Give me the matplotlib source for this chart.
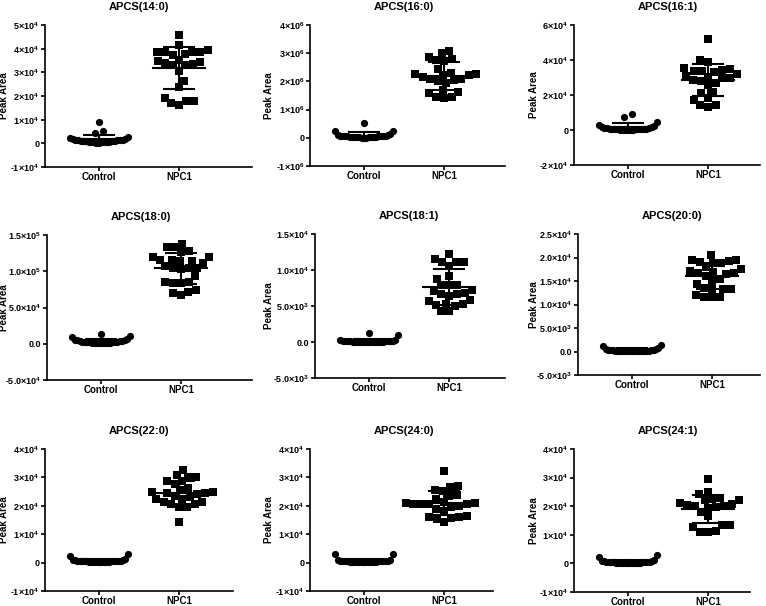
import numpy as np
import matplotlib
matplotlib.use("Agg")
import matplotlib.pyplot as plt

plt.rcParams['font.family'] = ['Liberation Sans', 'DejaVu Sans']
plt.rcParams['font.weight'] = 'bold'
plt.rcParams['mathtext.fontset'] = 'custom'
plt.rcParams['mathtext.rm'] = 'Liberation Sans:bold'
plt.rcParams['mathtext.default'] = 'rm'

groups = ["Control", "NPC1"]
titles = ["APCS(14:0)", "APCS(16:0)", "APCS(16:1)",
          "APCS(18:0)", "APCS(18:1)", "APCS(20:0)",
          "APCS(22:0)", "APCS(24:0)", "APCS(24:1)"]

# Peak area values, in units of units[i]
units = [1e4, 1e6, 1e4, 1e5, 1e4, 1e4, 1e4, 1e4, 1e4]

ctrl_14_0 = [0.91, 0.53, 0.43, 0.25, 0.21, 0.19, 0.18, 0.16, 0.15, 0.14, 0.13, 0.12, 0.11,
             0.10, 0.09, 0.08, 0.08, 0.07, 0.06, 0.06, 0.05, 0.05, 0.04, 0.04, 0.03, 0.03]
npc1_14_0 = [4.58, 4.16, 3.95, 3.85, 3.88, 3.85, 3.88, 3.77, 3.74, 3.53, 3.46, 3.44, 3.39,
             3.35, 3.30, 3.30, 3.07, 2.65, 2.39, 1.91, 1.77, 1.63, 1.72, 1.79]

ctrl_16_0 = [0.52, 0.24, 0.24, 0.14, 0.10, 0.09, 0.08, 0.07, 0.07, 0.06, 0.06, 0.05, 0.05,
             0.05, 0.04, 0.04, 0.04, 0.03, 0.03, 0.03, 0.02, 0.02, 0.02, 0.01, 0.01, 0.01]
npc1_16_0 = [3.09, 2.99, 2.87, 2.75, 2.72, 2.78, 2.43, 2.28, 2.31, 2.22, 2.14, 2.04, 2.07,
             2.22, 2.26, 2.10, 1.95, 1.63, 1.45, 1.41, 1.45, 1.59, 1.69, 2.00]

ctrl_16_1 = [0.91, 0.72, 0.48, 0.30, 0.22, 0.18, 0.15, 0.12, 0.10, 0.09, 0.08, 0.07, 0.06,
             0.05, 0.05, 0.04, 0.04, 0.03, 0.03, 0.02, 0.02, 0.02, 0.01, 0.01, 0.01]
npc1_16_1 = [5.18, 3.90, 4.00, 3.47, 3.39, 3.33, 3.37, 3.43, 3.52, 3.05, 2.86, 2.67, 2.57,
             2.95, 3.09, 2.95, 2.19, 2.10, 1.85, 1.71, 1.43, 1.33, 1.43, 3.20, 2.80]

ctrl_18_0 = [0.13, 0.11, 0.09, 0.06, 0.05, 0.05, 0.045, 0.04, 0.04, 0.035, 0.03, 0.03, 0.025,
             0.025, 0.02, 0.02, 0.02, 0.015, 0.015, 0.01, 0.01, 0.01, 0.008, 0.005, 0.005]
npc1_18_0 = [1.375, 1.34, 1.33, 1.28, 1.26, 1.19, 1.19, 1.16, 1.14, 1.15, 1.14, 1.11, 1.075,
             1.04, 1.03, 1.04, 1.04, 0.93, 0.855, 0.84, 0.84, 0.855, 0.715, 0.705, 0.74, 0.67]

ctrl_18_1 = [0.125, 0.093, 0.03, 0.025, 0.02, 0.018, 0.015, 0.012, 0.01, 0.01, 0.008, 0.008,
             0.006, 0.005, 0.005, 0.004, 0.003, 0.003, 0.002, 0.002, 0.001, 0.001, 0.0, 0.0, 0.0]
npc1_18_1 = [1.222, 1.153, 1.111, 1.111, 1.111, 1.05, 0.92, 0.88, 0.787, 0.727, 0.787, 0.787,
             0.704, 0.68, 0.643, 0.588, 0.67, 0.667, 0.565, 0.528, 0.519, 0.495, 0.426, 0.435, 0.528]

ctrl_20_0 = [0.13, 0.12, 0.08, 0.06, 0.05, 0.04, 0.035, 0.03, 0.03, 0.025, 0.02, 0.02, 0.02,
             0.015, 0.015, 0.01, 0.01, 0.01, 0.008, 0.006, 0.005, 0.004, 0.003, 0.002, 0.001]
npc1_20_0 = [2.045, 1.93, 1.88, 1.95, 1.95, 1.90, 1.79, 1.75, 1.88, 1.72, 1.67, 1.65, 1.54,
             1.61, 1.67, 1.69, 1.51, 1.44, 1.33, 1.35, 1.33, 1.33, 1.17, 1.15, 1.17, 1.21]

ctrl_22_0 = [0.30, 0.23, 0.12, 0.10, 0.09, 0.08, 0.07, 0.07, 0.06, 0.06, 0.05, 0.05, 0.05,
             0.04, 0.04, 0.04, 0.03, 0.03, 0.03, 0.02, 0.02, 0.02, 0.01, 0.01, 0.01]
npc1_22_0 = [3.26, 3.03, 3.08, 3.03, 2.87, 2.76, 2.87, 2.62, 2.56, 2.44, 2.44, 2.35, 2.48,
             2.50, 2.40, 2.23, 2.15, 2.05, 1.97, 2.05, 2.15, 2.24, 1.44, 1.97, 2.30]

ctrl_24_0 = [0.30, 0.29, 0.10, 0.08, 0.07, 0.06, 0.06, 0.05, 0.05, 0.05, 0.04, 0.04, 0.04,
             0.03, 0.03, 0.03, 0.03, 0.02, 0.02, 0.02, 0.02, 0.01, 0.01, 0.01, 0.01]
npc1_24_0 = [3.24, 2.70, 2.56, 2.53, 2.65, 2.38, 2.35, 2.23, 2.10, 2.07, 2.05, 2.07, 2.06,
             2.10, 2.14, 1.97, 1.83, 1.90, 1.60, 1.56, 1.44, 1.54, 1.60, 1.64, 2.00]

ctrl_24_1 = [0.29, 0.21, 0.12, 0.09, 0.08, 0.07, 0.06, 0.06, 0.05, 0.05, 0.05, 0.04, 0.04,
             0.04, 0.03, 0.03, 0.03, 0.03, 0.02, 0.02, 0.02, 0.01, 0.01, 0.01, 0.01]
npc1_24_1 = [2.95, 2.51, 2.41, 2.27, 2.22, 2.25, 2.00, 1.98, 2.10, 2.20, 2.08, 2.04, 1.81,
             1.66, 1.34, 1.26, 1.11, 1.11, 1.14, 1.34, 2.02, 1.95]

ctrl_all = [ctrl_14_0, ctrl_16_0, ctrl_16_1, ctrl_18_0, ctrl_18_1, ctrl_20_0,
            ctrl_22_0, ctrl_24_0, ctrl_24_1]
npc1_all = [npc1_14_0, npc1_16_0, npc1_16_1, npc1_18_0, npc1_18_1, npc1_20_0,
            npc1_22_0, npc1_24_0, npc1_24_1]

# y ticks of each panel
yticks = [[-1e4, 0, 1e4, 2e4, 3e4, 4e4, 5e4],
          [-1e6, 0, 1e6, 2e6, 3e6, 4e6],
          [-2e4, 0, 2e4, 4e4, 6e4],
          [-5e4, 0, 5e4, 1e5, 1.5e5],
          [-5e3, 0, 5e3, 1e4, 1.5e4],
          [-5e3, 0, 5e3, 1e4, 1.5e4, 2e4, 2.5e4],
          [-1e4, 0, 1e4, 2e4, 3e4, 4e4],
          [-1e4, 0, 1e4, 2e4, 3e4, 4e4],
          [-1e4, 0, 1e4, 2e4, 3e4, 4e4]]
decimal_labels = [False, False, False, True, True, True, False, False, False]

# axes boxes in pixels: left, top, right, bottom
W, H = 766, 606
boxes = [(45, 25, 252, 167), (310, 25, 505, 166), (574, 25, 760, 165),
         (47, 235, 252, 380), (315, 234, 505, 378), (578, 234, 760, 375),
         (45, 449, 233, 591), (310, 449, 493, 591), (574, 449, 750, 592)]
label_x = [4, 269, 534]
ctrl_px = 54
spacing_px = 80


def sci_label(v, dec):
    if v == 0:
        return "0.0" if dec else "0"
    exp = int(np.floor(np.log10(abs(v)) + 1e-9))
    mant = v / 10 ** exp
    m = f"{mant:.1f}" if dec else f"{mant:.0f}"
    return f"{m}×10$^{{{exp}}}$"


def band(vals, row_h, dx, max_hw):
    # rows of near-equal values spread sideways (squeezed), highest at the ends
    vals = np.asarray(vals, float)
    rows = np.floor((vals - vals.min()) / row_h).astype(int)
    xs = np.zeros(len(vals))
    for r in np.unique(rows):
        idx = np.where(rows == r)[0]
        idx = idx[np.argsort(vals[idx], kind="stable")]
        n = len(idx)
        step = dx if n < 2 else min(dx, 2 * max_hw / (n - 1))
        offs = (np.arange(n) - (n - 1) / 2) * step
        order = sorted(range(n), key=lambda k: (abs(offs[k]), offs[k]))
        for j, k in zip(idx, order):
            xs[j] = offs[k]
    return xs


def beeswarm(y_px, d):
    # offsets in pixels so markers of diameter d do not overlap
    y_px = np.asarray(y_px, float)
    xs = np.zeros(len(y_px))
    placed = []
    for n, i in enumerate(np.argsort(y_px, kind="stable")):
        cands = [0.0]
        for j in placed:
            dy = abs(y_px[i] - y_px[j])
            if dy < d:
                h = np.sqrt(d * d - dy * dy)
                cands += [xs[j] + h, xs[j] - h]
        side = 1 if n % 2 else -1
        cands.sort(key=lambda c: (round(abs(c), 6), side * c))
        for c in cands:
            if all((c - xs[j]) ** 2 + (y_px[i] - y_px[j]) ** 2 >= d * d - 1e-6 for j in placed):
                xs[i] = c
                break
        placed.append(i)
    return xs


fig = plt.figure(figsize=(W / 100, H / 100), dpi=100)

for i in range(9):
    left, top, right, bottom = boxes[i]
    ax = fig.add_axes([left / W, 1 - bottom / H, (right - left) / W, (bottom - top) / H])
    ax_w, ax_h = right - left, bottom - top
    x0 = -ctrl_px / spacing_px
    x1 = (ax_w - ctrl_px) / spacing_px
    ymin, ymax = yticks[i][0], yticks[i][-1]
    ax.set_xlim(x0, x1)
    ax.set_ylim(ymin, ymax)
    px_y = (ymax - ymin) / ax_h

    # Control: dense circles squeezed in a band
    yc = np.array(ctrl_all[i]) * units[i]
    xc = 0 + band(yc, 8.5 * px_y, 8.5 / spacing_px, 0.36)
    ax.plot(xc, yc, linestyle="none", marker="o", ms=5.2, color="black", mew=0, zorder=2)

    # NPC1: squares in a beeswarm
    yn = np.array(npc1_all[i]) * units[i]
    xn = 1 + beeswarm(yn / px_y, 8.0) / spacing_px
    ax.plot(xn, yn, linestyle="none", marker="s", ms=5.4, color="black", mew=0, zorder=2)

    # mean and SD
    for g, y in enumerate([yc, yn]):
        m, sd = y.mean(), y.std(ddof=1)
        ax.plot([g - 0.33, g + 0.33], [m, m], color="black", lw=1.5, zorder=3)
        ax.plot([g, g], [m - sd, m + sd], color="black", lw=1.5, zorder=3)
        for c in (m - sd, m + sd):
            ax.plot([g - 0.19, g + 0.19], [c, c], color="black", lw=1.5, zorder=3)

    ax.spines["top"].set_visible(False)
    ax.spines["right"].set_visible(False)
    ax.spines["left"].set_linewidth(1.2)
    ax.spines["bottom"].set_linewidth(1.2)
    ax.set_xticks([0, 1])
    ax.set_xticklabels(groups, fontsize=7, fontweight="bold")
    ax.set_yticks(yticks[i])
    ax.set_yticklabels([sci_label(v, decimal_labels[i]) for v in yticks[i]],
                       fontsize=6.5, fontweight="bold")
    ax.tick_params(axis="both", direction="out", length=3, width=1.2, pad=1)
    ax.tick_params(axis="x", pad=0.5)
    ax.set_ylabel("Peak Area", fontsize=7, fontweight="bold", va="center")
    ax.yaxis.set_label_coords((label_x[i % 3] - left) / ax_w, 0.5)
    ax.annotate(titles[i], xy=(0.5, 1), xycoords=("data", "axes fraction"),
                xytext=(0, 13), textcoords="offset points",
                ha="center", va="center", fontsize=8, fontweight="bold")

fig.savefig("out.png", dpi=100)
